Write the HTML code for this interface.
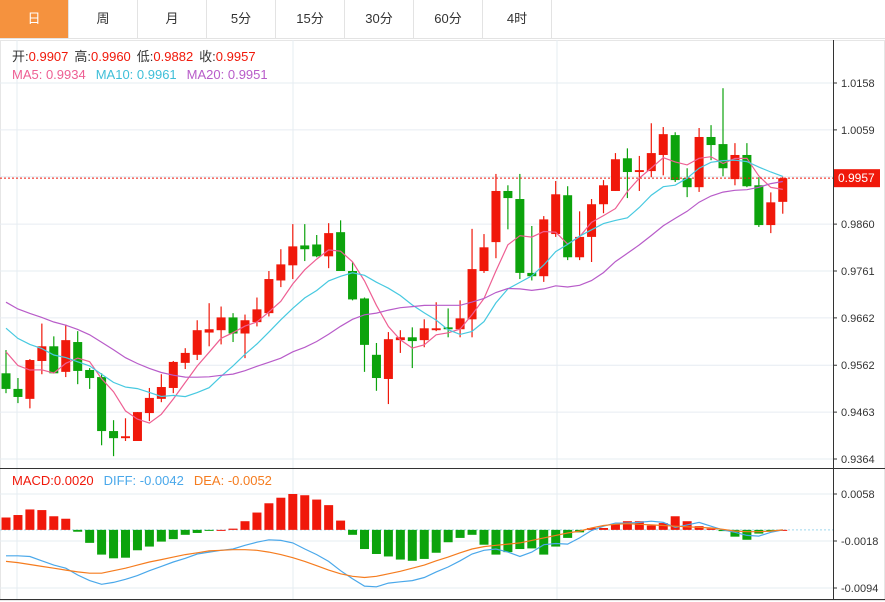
<!DOCTYPE html>
<html><head><meta charset="utf-8"><style>
body{margin:0;width:885px;height:602px;overflow:hidden;background:#fff;font-family:"Liberation Sans","Noto Sans CJK SC",sans-serif;}
#tabs{position:absolute;left:0;top:0;height:38px;display:flex;border-bottom:1px solid #e3e3e3;width:885px}
.tab{width:69px;height:38px;line-height:38px;text-align:center;font-size:13px;color:#333;border-right:1px solid #e3e3e3;box-sizing:border-box}
.tab.on{background:#f5923e;color:#fff}
svg{position:absolute;left:0;top:0}
</style></head><body>
<div id="tabs">
<div class="tab on">日</div>
<div class="tab">周</div>
<div class="tab">月</div>
<div class="tab">5分</div>
<div class="tab">15分</div>
<div class="tab">30分</div>
<div class="tab">60分</div>
<div class="tab">4时</div>
</div>
<svg id="chart" width="885" height="602"></svg>
<script>
const opens=[.9545,.9512,.9491,.9571,.9602,.9548,.9611,.9552,.9537,.9423,.9408,.9402,.9461,.9491,.9514,.9567,.9584,.9631,.9636,.9663,.9629,.9653,.9672,.9741,.9773,.9815,.9817,.9792,.9843,.9761,.9703,.9584,.9533,.9615,.9621,.9615,.9636,.9642,.9638,.9659,.9761,.9822,.9930,.9913,.9757,.9750,.9839,.9921,.9790,.9833,.9902,.9930,.9999,.9970,.9972,1.0006,1.0048,.9957,.9938,1.0044,1.0029,.9955,1.0006,.9942,.9858,.9907];
const highs=[.9594,.9535,.9575,.9650,.9623,.9648,.9634,.9556,.9545,.9446,.9450,.9463,.9514,.9543,.9571,.9598,.9657,.9693,.9686,.9672,.9669,.9705,.9761,.9807,.9860,.9860,.9837,.9862,.9868,.9780,.9705,.9609,.9632,.9636,.9642,.9659,.9695,.9682,.9699,.9850,.9839,.9966,.9942,.9966,.9856,.9877,.9951,.9940,.9887,.9913,.9953,1.0010,1.0020,1.0004,1.0073,1.0065,1.0054,.9978,1.0063,1.0069,1.0147,1.0031,1.0031,.9959,.9927,.9960];
const lows=[.9503,.9482,.9471,.9543,.9545,.9537,.9522,.9512,.9393,.9370,.9402,.9402,.9444,.9484,.9503,.9554,.9573,.9602,.9606,.9611,.9577,.9644,.9665,.9727,.9744,.9782,.9790,.9767,.9761,.9699,.9548,.9508,.9480,.9588,.9556,.9600,.9634,.9621,.9621,.9621,.9757,.9788,.9849,.9744,.9741,.9738,.9833,.9784,.9784,.9780,.9883,.9930,.9915,.9930,.9959,.9963,.9949,.9917,.9928,.9995,.9961,.9942,.9938,.9854,.9841,.9882];
const closes=[.9512,.9495,.9573,.9602,.9545,.9615,.9550,.9535,.9423,.9408,.9412,.9463,.9493,.9516,.9569,.9588,.9636,.9638,.9663,.9629,.9657,.9680,.9744,.9775,.9813,.9807,.9792,.9841,.9761,.9701,.9605,.9535,.9617,.9621,.9613,.9640,.9640,.9638,.9661,.9765,.9811,.9930,.9915,.9757,.9750,.9870,.9923,.9790,.9833,.9902,.9942,.9997,.9970,.9974,1.0010,1.0050,.9953,.9938,1.0044,1.0027,.9978,1.0006,.9940,.9858,.9906,.9957];
const priorCloses=[.978,.976,.977,.974,.975,.973,.976,.974,.972,.975,.971,.970,.969,.968,.967,.964,.962,.960,.958];
const priceTicks=["1.0158","1.0059","0.9960","0.9860","0.9761","0.9662","0.9562","0.9463","0.9364"];
const macdHist=[.0020,.0024,.0033,.0032,.0022,.0018,-.0003,-.0021,-.0040,-.0046,-.0045,-.0033,-.0027,-.0019,-.0015,-.0008,-.0005,-.0001,.0000,.0002,.0014,.0028,.0043,.0052,.0058,.0056,.0049,.0040,.0015,-.0008,-.0031,-.0039,-.0043,-.0048,-.0050,-.0047,-.0037,-.0020,-.0013,-.0008,-.0024,-.0040,-.0036,-.0031,-.0030,-.0040,-.0027,-.0013,-.0004,.0003,.0003,.0009,.0014,.0014,.0007,.0011,.0022,.0014,.0006,.0002,-.0002,-.0011,-.0016,-.0006,-.0003,.0000];
const diffVals=[-.0042,-.0042,-.0043,-.0050,-.0057,-.0062,-.0073,-.0082,-.0088,-.0085,-.0080,-.0074,-.0066,-.0059,-.0052,-.0046,-.0039,-.0036,-.0033,-.0031,-.0025,-.0020,-.0016,-.0017,-.0021,-.0031,-.0040,-.0051,-.0066,-.0079,-.0091,-.0092,-.0086,-.0084,-.0082,-.0077,-.0068,-.0060,-.0050,-.0039,-.0033,-.0031,-.0036,-.0043,-.0036,-.0024,-.0022,-.0023,-.0013,-.0001,.0006,.0011,.0011,.0012,.0014,.0012,.0004,.0008,.0012,.0006,.0000,-.0004,-.0009,-.0010,-.0004,.0000];
const deaVals=[-.0051,-.0053,-.0056,-.0059,-.0062,-.0065,-.0068,-.0070,-.0070,-.0066,-.0062,-.0057,-.0052,-.0048,-.0044,-.0040,-.0037,-.0034,-.0033,-.0032,-.0032,-.0033,-.0036,-.0040,-.0045,-.0051,-.0058,-.0065,-.0071,-.0075,-.0077,-.0075,-.0071,-.0067,-.0062,-.0057,-.0050,-.0044,-.0037,-.0031,-.0027,-.0025,-.0023,-.0021,-.0017,-.0013,-.0009,-.0005,-.0002,.0003,.0007,.0009,.0010,.0009,.0008,.0007,.0006,.0005,.0004,.0003,.0001,-.0002,-.0003,-.0003,-.0002,.0000];
const macdTicks=["0.0058","-0.0018","-0.0094"];

const svg=document.getElementById('chart');
const NS='http://www.w3.org/2000/svg';
function mk(tag,attrs,parent){const e=document.createElementNS(NS,tag);for(const k in attrs)e.setAttribute(k,attrs[k]);(parent||svg).appendChild(e);return e;}
const P0=1.0158,P1=0.9364,Y0=83,Y1=459;
const py=p=>Y0+(P0-p)*(Y1-Y0)/(P0-P1);
const M0=0.0058,M1=-0.0094,MY0=494,MY1=588;
const my=v=>MY0+(M0-v)*(MY1-MY0)/(M0-M1);
const xAt=i=>6+i*11.95;
const RED='#f0180a',GREEN='#0ca30c';
let g;
g=mk('rect',{x:0.5,y:40.5,width:884,height:560,fill:'none',stroke:'#e6e6e6'});

priceTicks.forEach(t=>{const y=py(parseFloat(t));
 g=mk('line',{x1:0,x2:833,y1:y,y2:y,stroke:'#e6ecf2'});
 g=mk('line',{x1:833,x2:837,y1:y,y2:y,stroke:'#333'});
 g=mk('text',{x:841,y:y+4,'font-size':11,fill:'#333'});g.textContent=t;});
macdTicks.forEach(t=>{const y=my(parseFloat(t));
 g=mk('line',{x1:0,x2:833,y1:y,y2:y,stroke:'#e6ecf2'});
 g=mk('line',{x1:833,x2:837,y1:y,y2:y,stroke:'#333'});
 g=mk('text',{x:841,y:y+4,'font-size':11,fill:'#333'});g.textContent=t;});
[17,293,557].forEach(x=>{g=mk('line',{x1:x,x2:x,y1:40,y2:600,stroke:'#e6ecf2'});});
g=mk('line',{x1:833.5,x2:833.5,y1:40,y2:600,stroke:'#333'});
g=mk('line',{x1:0,x2:885,y1:468.5,y2:468.5,stroke:'#333'});
g=mk('line',{x1:0,x2:885,y1:599.5,y2:599.5,stroke:'#333'});
closes.forEach((c,i)=>{const o=opens[i],up=c>=o,col=up?RED:GREEN,x=xAt(i);
 g=mk('line',{x1:x,x2:x,y1:py(highs[i]),y2:py(lows[i]),stroke:col,'stroke-width':1.2});
 const t=py(Math.max(o,c)),b=py(Math.min(o,c));
 g=mk('rect',{x:x-4.5,y:t,width:9,height:Math.max(1.5,b-t),fill:col});});
const all=priorCloses.concat(closes);
function ma(n){return closes.map((_,i)=>{const j=i+priorCloses.length;let s=0;for(let k=j-n+1;k<=j;k++)s+=all[k];return s/n;});}
[[5,'#ee5f93','ma5-line'],[10,'#47c9e0','ma10-line'],[20,'#b85cc9','ma20-line']].forEach(([n,col,name])=>{
 const d=ma(n).map((v,i)=>(i?'L':'M')+xAt(i).toFixed(1)+' '+py(v).toFixed(1)).join(' ');
 g=mk('path',{d:d,fill:'none',stroke:col,'stroke-width':1.2});});
const last=closes[closes.length-1];
g=mk('line',{x1:0,x2:833,y1:py(last),y2:py(last),stroke:'#f0180a','stroke-dasharray':'2,2'});
g=mk('rect',{x:834,y:py(last)-9,width:46,height:18,fill:'#f0180a'});
g=mk('text',{x:838,y:py(last)+4,'font-size':12,fill:'#fff'});g.textContent=last.toFixed(4);
g=mk('line',{x1:0,x2:833,y1:my(0),y2:my(0),stroke:'#9fd6ee','stroke-dasharray':'2,2'});
macdHist.forEach((v,i)=>{const y=my(v),z=my(0);
 g=mk('rect',{x:xAt(i)-4.5,y:Math.min(y,z),width:9,height:Math.max(1,Math.abs(y-z)),fill:v>=0?RED:GREEN});});
[[diffVals,'#4aa8ea','diff-line'],[deaVals,'#f57c1f','dea-line']].forEach(([arr,col,name])=>{
 const d=arr.map((v,i)=>(i?'L':'M')+xAt(i).toFixed(1)+' '+my(v).toFixed(1)).join(' ');
 g=mk('path',{d:d,fill:'none',stroke:col,'stroke-width':1.2});});
function legend(y,items,name){const t=mk('text',{x:12,y:y,'font-size':13,'xml:space':'preserve'});
 items.forEach(([s,c,dx])=>{const sp=mk('tspan',{fill:c,dx:dx||0},t);sp.textContent=s;});}
legend(61,[['开:','#333'],['0.9907','#f0180a'],['高:','#333',6],['0.9960','#f0180a'],['低:','#333',6],['0.9882','#f0180a'],['收:','#333',6],['0.9957','#f0180a']],'ohlc-legend');
legend(79,[['MA5: 0.9934','#ee5f93'],['MA10: 0.9961','#3fbfd8',10],['MA20: 0.9951','#b85cc9',10]],'ma-legend');
legend(485,[['MACD:0.0020','#f0180a'],['DIFF: -0.0042','#4aa8ea',10],['DEA: -0.0052','#f57c1f',10]],'macd-legend');
</script>
</body></html>
